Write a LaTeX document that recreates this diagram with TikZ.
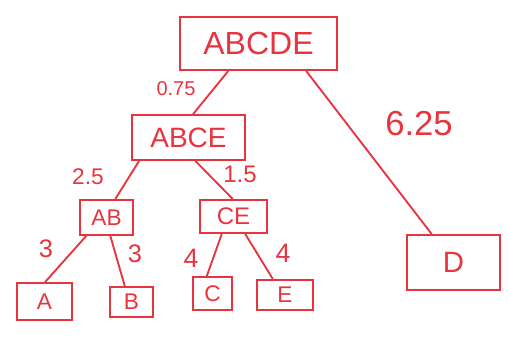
\documentclass[tikz,border=0pt]{standalone}
\usepackage{fontspec}
\setmainfont{Liberation Sans}
\usetikzlibrary{calc}
\definecolor{pen}{RGB}{232,52,62}
\begin{document}
\begin{tikzpicture}[x=0.75pt,y=-0.75pt,
  box/.style={draw=pen, line width=1.4pt, text=pen, inner sep=0pt},
  edge/.style={draw=pen, line width=1.4pt},
  lbl/.style={text=pen, inner sep=0pt}]
\useasboundingbox (0,0) rectangle (508,339);
% nodes
\node[box, minimum width=117.75pt, minimum height=39.75pt, font=\fontsize{24}{24}\selectfont] (abcde) at (258.5,43.5) {ABCDE};
\node[box, minimum width=84.75pt, minimum height=33.75pt, font=\fontsize{21}{21}\selectfont] (abce) at (188.5,137.5) {ABCE};
\node[box, minimum width=39.75pt, minimum height=26.25pt, font=\fontsize{17}{17}\selectfont] (ab) at (106.5,217.5) {AB};
\node[box, minimum width=50.25pt, minimum height=24.75pt, font=\fontsize{18}{18}\selectfont] (ce) at (233.5,216.5) {CE};
\node[box, minimum width=41.25pt, minimum height=27.75pt, font=\fontsize{17}{17}\selectfont] (a) at (44.5,301.5) {A};
\node[box, minimum width=32.25pt, minimum height=22.5pt, font=\fontsize{17}{17}\selectfont] (b) at (131.5,302) {B};
\node[box, minimum width=29.25pt, minimum height=24.75pt, font=\fontsize{17}{17}\selectfont] (c) at (212.5,293.5) {C};
\node[box, minimum width=42pt, minimum height=22.5pt, font=\fontsize{17}{17}\selectfont] (e) at (285,295) {E};
\node[box, minimum width=69.75pt, minimum height=41.25pt, font=\fontsize{22}{22}\selectfont] (d) at (453.5,262.5) {D};
% connectors
\draw[edge] ($(abcde.south west)!0.31!(abcde.south east)$) -- ($(abce.north west)!0.54!(abce.north east)$);
\draw[edge] ($(abcde.south west)!0.80!(abcde.south east)$) -- ($(d.north west)!0.27!(d.north east)$);
\draw[edge] ($(abce.south west)!0.07!(abce.south east)$) -- ($(ab.north west)!0.66!(ab.north east)$);
\draw[edge] ($(abce.south west)!0.56!(abce.south east)$) -- ($(ce.north west)!0.49!(ce.north east)$);
\draw[edge] ($(ab.south west)!0.13!(ab.south east)$) -- ($(a.north west)!0.51!(a.north east)$);
\draw[edge] ($(ab.south west)!0.57!(ab.south east)$) -- ($(b.north west)!0.35!(b.north east)$);
\draw[edge] ($(ce.south west)!0.33!(ce.south east)$) -- ($(c.north west)!0.36!(c.north east)$);
\draw[edge] ($(ce.south west)!0.67!(ce.south east)$) -- ($(e.north west)!0.29!(e.north east)$);
% labels
\node[lbl, font=\fontsize{15}{15}\selectfont] (l1) at (176,89) {0.75};
\node[lbl, font=\fontsize{26}{26}\selectfont] (l2) at (419,124) {6.25};
\node[lbl, font=\fontsize{17}{17}\selectfont] (l3) at (88,177) {2.5};
\node[lbl, font=\fontsize{18}{18}\selectfont] (l4) at (240,174) {1.5};
\node[lbl, font=\fontsize{19}{19}\selectfont] (l5) at (46,249) {3};
\node[lbl, font=\fontsize{19}{19}\selectfont] (l6) at (135,254) {3};
\node[lbl, font=\fontsize{20}{20}\selectfont] (l7) at (191,258) {4};
\node[lbl, font=\fontsize{20}{20}\selectfont] (l8) at (283,253) {4};
\end{tikzpicture}
\end{document}
